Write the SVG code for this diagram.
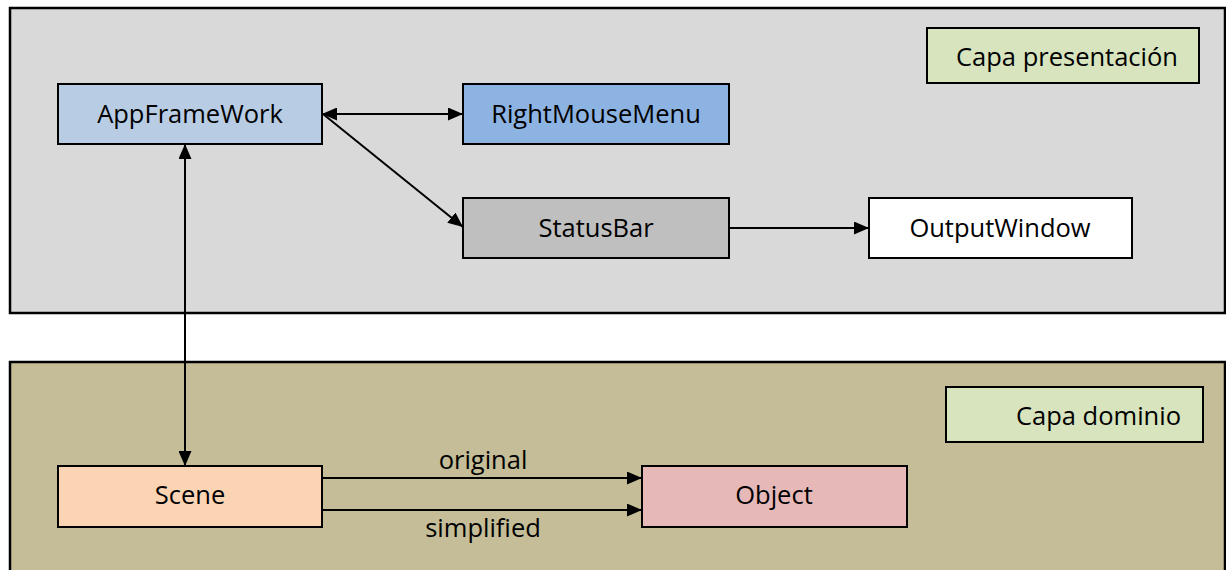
<svg xmlns="http://www.w3.org/2000/svg" width="1226" height="570" viewBox="0 0 1226 570">
<defs>
<style>
.layer{stroke:#000;stroke-width:2.5}
.node{stroke:#000;stroke-width:2}
.lbl{font-family:"Open Sans","Liberation Sans",sans-serif;font-size:25.5px;fill:#000;text-anchor:middle}
.edge{stroke:#000;stroke-width:2;fill:none}
</style>
<marker id="ah" viewBox="0 0 15 13" refX="15" refY="6.5" markerWidth="15" markerHeight="13" markerUnits="userSpaceOnUse" orient="auto-start-reverse">
<path d="M0,0 L15,6.5 L0,13 Z" fill="#000"/>
</marker>
</defs>
<rect width="1226" height="570" fill="#fff"/>
<g id="capa-presentacion-layer">
<rect class="layer" x="10" y="8" width="1215" height="305" fill="#d9d9d9"/>
</g>
<g id="capa-dominio-layer">
<rect class="layer" x="10" y="362" width="1215" height="220" fill="#c4bd97"/>
</g>
<g id="label-presentacion">
<rect class="node" x="927" y="28" width="272" height="55" fill="#d7e4bd"/>
<text class="lbl" x="1178" y="66" style="text-anchor:end">Capa presentación</text>
</g>
<g id="label-dominio">
<rect class="node" x="946" y="387" width="257" height="55" fill="#d7e4bd"/>
<text class="lbl" x="1181" y="425" style="text-anchor:end">Capa dominio</text>
</g>
<g id="connectors">
<line class="edge" x1="322" y1="114" x2="463" y2="114" marker-start="url(#ah)" marker-end="url(#ah)"/>
<line class="edge" x1="323" y1="114" x2="463" y2="227" marker-end="url(#ah)"/>
<line class="edge" x1="729" y1="228" x2="869" y2="228" marker-end="url(#ah)"/>
<line class="edge" x1="185" y1="144" x2="185" y2="466" marker-start="url(#ah)" marker-end="url(#ah)"/>
<line class="edge" x1="322" y1="478" x2="642" y2="478" marker-end="url(#ah)"/>
<line class="edge" x1="322" y1="510" x2="642" y2="510" marker-end="url(#ah)"/>
<text class="lbl" x="483" y="469">original</text>
<text class="lbl" x="483" y="537">simplified</text>
</g>
<g id="AppFrameWork">
<rect class="node" x="58" y="84" width="264" height="60" fill="#b8cce4"/>
<text class="lbl" x="190" y="123">AppFrameWork</text>
</g>
<g id="RightMouseMenu">
<rect class="node" x="463" y="84" width="266" height="60" fill="#8db3e2"/>
<text class="lbl" x="596" y="123">RightMouseMenu</text>
</g>
<g id="StatusBar">
<rect class="node" x="463" y="198" width="266" height="60" fill="#bfbfbf"/>
<text class="lbl" x="596" y="237">StatusBar</text>
</g>
<g id="OutputWindow">
<rect class="node" x="869" y="198" width="263" height="60" fill="#ffffff"/>
<text class="lbl" x="1000" y="237">OutputWindow</text>
</g>
<g id="Scene">
<rect class="node" x="58" y="466" width="264" height="61" fill="#fbd4b4"/>
<text class="lbl" x="190" y="504">Scene</text>
</g>
<g id="Object">
<rect class="node" x="642" y="466" width="265" height="61" fill="#e6b9b8"/>
<text class="lbl" x="774" y="504">Object</text>
</g>
</svg>
